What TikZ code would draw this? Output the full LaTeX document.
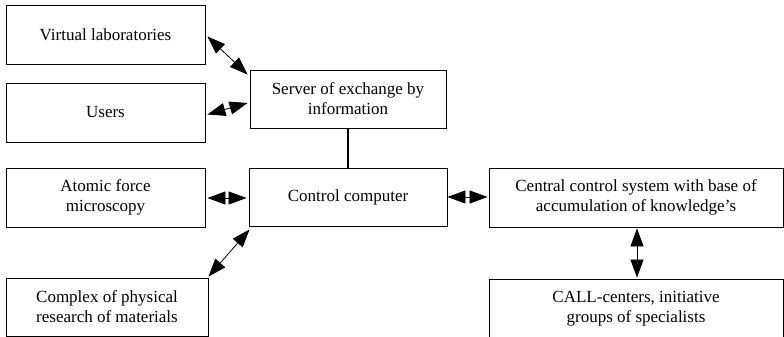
\documentclass[tikz,border=0pt]{standalone}
\usepackage{fontspec}
\setmainfont{Liberation Serif}
\usetikzlibrary{arrows.meta,calc}
\begin{document}
\begin{tikzpicture}[x=1pt,y=-1pt,
  box/.style={draw, line width=0.9pt, inner sep=0pt, align=center,
    font=\fontsize{17}{20}\selectfont},
  >={Triangle[length=18pt,width=13pt]},
  link/.style={line width=0.8pt, <->}]
\useasboundingbox (0,0) rectangle (784,337);
\clip (0,0) rectangle (784,337);
% left column
\node[box, minimum width=199, minimum height=59] (vl) at (105.5,34.5) {Virtual laboratories};
\node[box, minimum width=199, minimum height=59] (us) at (105.5,112.5) {Users};
\node[box, minimum width=199, minimum height=59] (afm) at (105.5,197.5) {Atomic force\\microscopy};
\node[box, minimum width=202, minimum height=58] (cx) at (107,307) {Complex of physical\\research of materials};
% middle column
\node[box, minimum width=196, minimum height=58] (srv) at (348,99) {Server of exchange by\\information};
\node[box, minimum width=198, minimum height=58] (cc) at (348,197) {Control computer};
% right column
\node[box, minimum width=294, minimum height=59] (ccs) at (636,197.5) {Central control system with base of\\accumulation of knowledge’s};
\node[box, minimum width=294, minimum height=59] (call) at (636,308.5) {CALL-centers, initiative\\groups of specialists};
% connectors
\draw[link] ($(vl.east)+(2,2)$) -- ($(srv.north west)+(-2,5)$);
\draw[link] ($(us.east)+(2,2)$) -- ($(srv.west)+(-2,4)$);
\draw[link] ($(afm.east)+(2,0.5)$) -- ($(cc.west)+(-2,1)$);
\draw[link] ($(cx.north east)+(0,-1)$) -- ($(cc.south west)+(1,3)$);
\draw[link] ($(cc.east)+(0,0)$) -- ($(ccs.west)+(-1,-0.5)$);
\draw[link] ($(ccs.south)+(1,1)$) -- ($(call.north)+(1,-1)$);
\draw[line width=1.4pt] (srv.south) -- (cc.north);
\end{tikzpicture}
\end{document}
